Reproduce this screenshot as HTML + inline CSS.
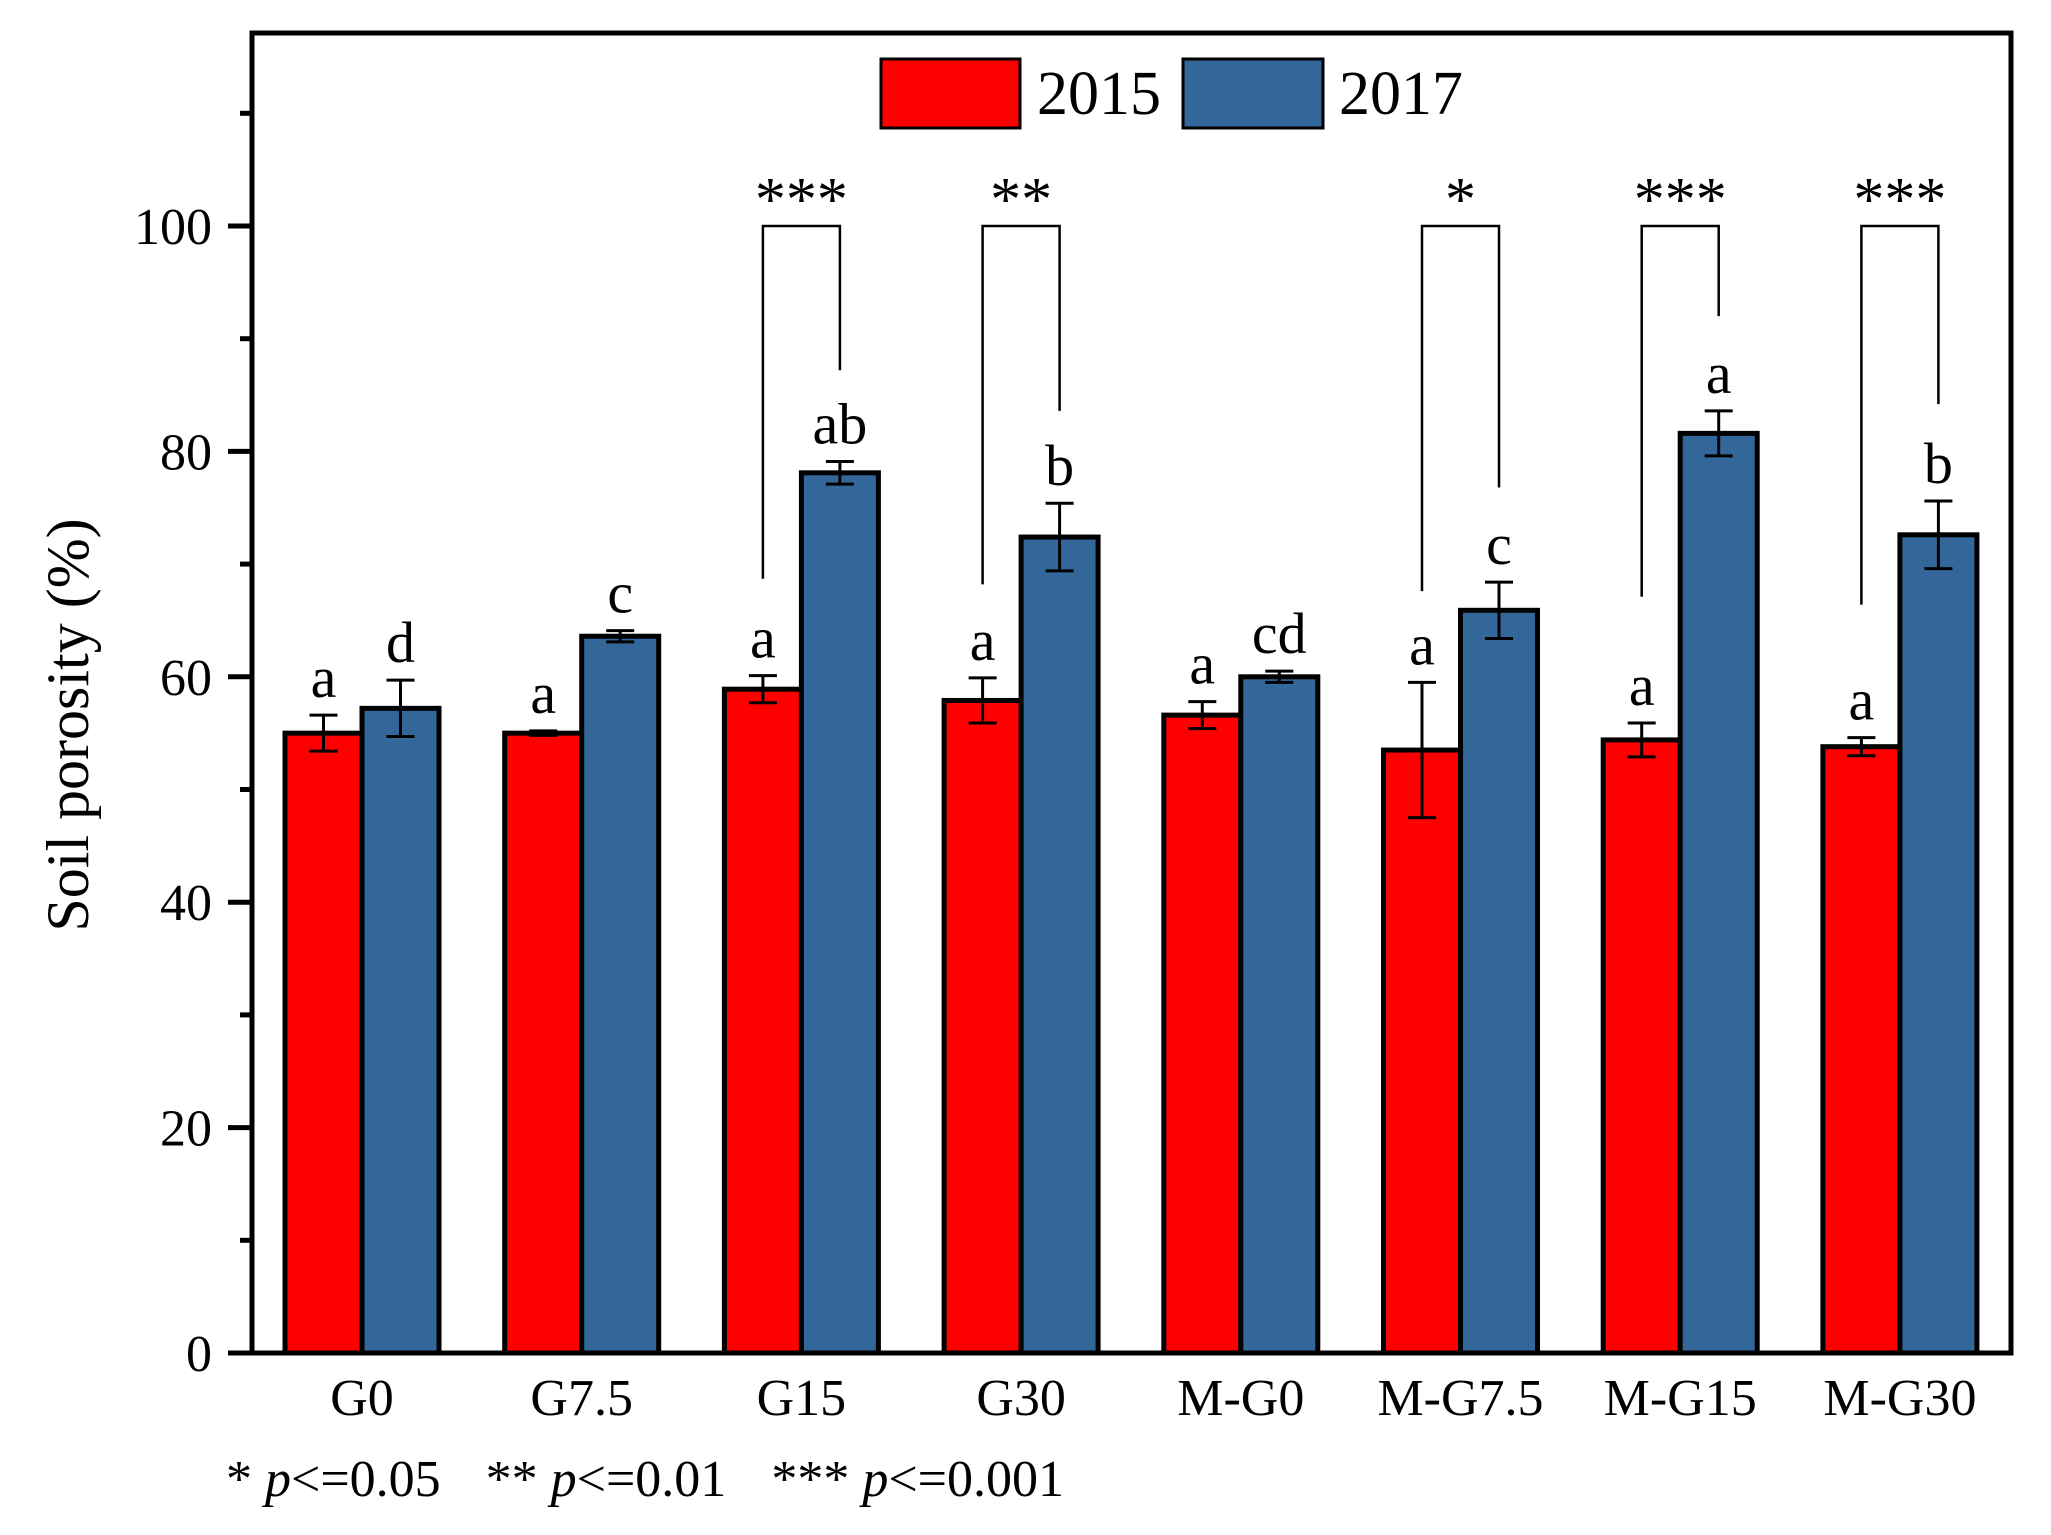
<!DOCTYPE html>
<html><head><meta charset="utf-8"><style>
html,body{margin:0;padding:0;background:#fff;}
svg{display:block;font-family:"Liberation Serif","Times New Roman",serif;}
</style></head><body>
<svg id="chart" width="2051" height="1535" viewBox="0 0 2051 1535">
<g id="plot"></g>
</svg>
<script>
const categories = ["G0","G7.5","G15","G30","M-G0","M-G7.5","M-G15","M-G30"];
const vals2015 = [55.0,55.0,58.9,57.9,56.6,53.5,54.4,53.8];
const err2015 = [1.6,0.2,1.2,2.0,1.2,6.0,1.5,0.8];
const vals2017 = [57.2,63.6,78.1,72.4,60.0,65.9,81.6,72.6];
const err2017 = [2.5,0.5,1.0,3.0,0.5,2.5,2.0,3.0];
const letters2015 = ["a","a","a","a","a","a","a","a"];
const letters2017 = ["d","c","ab","b","cd","c","a","b"];
const sigStars = ["","","***","**","","*","***","***"];
const bracketLeft = [0,0,68.7,68.2,0,67.6,67.1,66.4];
const bracketRight = [0,0,87.2,83.6,0,76.8,92.0,84.2];
const bracketTop = 100;
const majorTicks = [0,20,40,60,80,100];
const minorTicks = [10,30,50,70,90,110];

const NS="http://www.w3.org/2000/svg";
const g=document.getElementById('plot');
const X0=252, X1=2011, YTOP=33, YBASE=1353, PERUNIT=11.27;
function y(v){return YBASE - v*PERUNIT;}
function xc(i){return 362 + i*219.7;}
const BW=77;
function el(tag,attrs,parent){const e=document.createElementNS(NS,tag);for(const k in attrs)e.setAttribute(k,attrs[k]);(parent||g).appendChild(e);return e;}
function txt(s,attrs){const e=el('text',attrs);e.textContent=s;return e;}

categories.forEach((c,i)=>{
  const cx=xc(i);
  const r=el('rect',{x:cx-BW,y:y(vals2015[i]),width:BW,height:YBASE-y(vals2015[i]),fill:'#ff0000',stroke:'#000','stroke-width':5});
  
  
  const b=el('rect',{x:cx,y:y(vals2017[i]),width:BW,height:YBASE-y(vals2017[i]),fill:'#336699',stroke:'#000','stroke-width':5});
  
  
  [[cx-BW/2,vals2015[i],err2015[i],letters2015[i],'2015'],[cx+BW/2,vals2017[i],err2017[i],letters2017[i],'2017']].forEach(([mx,v,e,l,yr])=>{
    const eg=el('g',{stroke:'#000','stroke-width':3});
    
    
    el('line',{x1:mx,x2:mx,y1:y(v+e),y2:y(v-e)},eg);
    el('line',{x1:mx-14,x2:mx+14,y1:y(v+e),y2:y(v+e)},eg);
    el('line',{x1:mx-14,x2:mx+14,y1:y(v-e),y2:y(v-e)},eg);
    const t=txt(l,{x:mx,y:y(v+e)-18,'text-anchor':'middle','font-size':58,fill:'#000'});
    
    
  });
  if(sigStars[i]){
    const lx=cx-BW/2, rx=cx+BW/2;
    const p=el('polyline',{points:`${lx},${y(bracketLeft[i])} ${lx},${y(bracketTop)} ${rx},${y(bracketTop)} ${rx},${y(bracketRight[i])}`,fill:'none',stroke:'#000','stroke-width':2.5});
    
    
    const s=txt(sigStars[i],{x:cx,y:y(bracketTop)-6,'text-anchor':'middle','font-size':62,fill:'#000'});
    
    
  }
  const cl=txt(c,{x:cx,y:1415,'text-anchor':'middle','font-size':52,fill:'#000'});
  
  
});

const fr=el('rect',{x:X0,y:YTOP,width:X1-X0,height:YBASE-YTOP,fill:'none',stroke:'#000','stroke-width':5});


const xa=el('line',{x1:228,x2:X1+2,y1:YBASE,y2:YBASE,stroke:'#000','stroke-width':5});



majorTicks.forEach(v=>{
  const t=el('line',{x1:228,x2:X0,y1:y(v),y2:y(v),stroke:'#000','stroke-width':5});
  
  
  const l=txt(String(v),{x:212,y:y(v)+18,'text-anchor':'end','font-size':52,fill:'#000'});
  
  
});
minorTicks.forEach(v=>{
  const t=el('line',{x1:240,x2:X0,y1:y(v),y2:y(v),stroke:'#000','stroke-width':5});
  
  
});

const yt=txt('Soil porosity (%)',{x:0,y:0,transform:'translate(88,725) rotate(-90)','text-anchor':'middle','font-size':60,fill:'#000'});



const lg=el('g',{});


el('rect',{x:881,y:59,width:139,height:69,fill:'#ff0000',stroke:'#000','stroke-width':3},lg);
const t1=txt('2015',{x:1037,y:114,'font-size':62,fill:'#000'});


el('rect',{x:1183,y:59,width:140,height:69,fill:'#336699',stroke:'#000','stroke-width':3},lg);
const t2=txt('2017',{x:1339,y:114,'font-size':62,fill:'#000'});



const fn=el('text',{x:226,y:1496,'font-size':52,fill:'#000'});


fn.innerHTML='* <tspan font-style="italic">p</tspan>&lt;=0.05<tspan dx="45">** </tspan><tspan font-style="italic">p</tspan>&lt;=0.01<tspan dx="45">*** </tspan><tspan font-style="italic">p</tspan>&lt;=0.001';
</script>
</body></html>
